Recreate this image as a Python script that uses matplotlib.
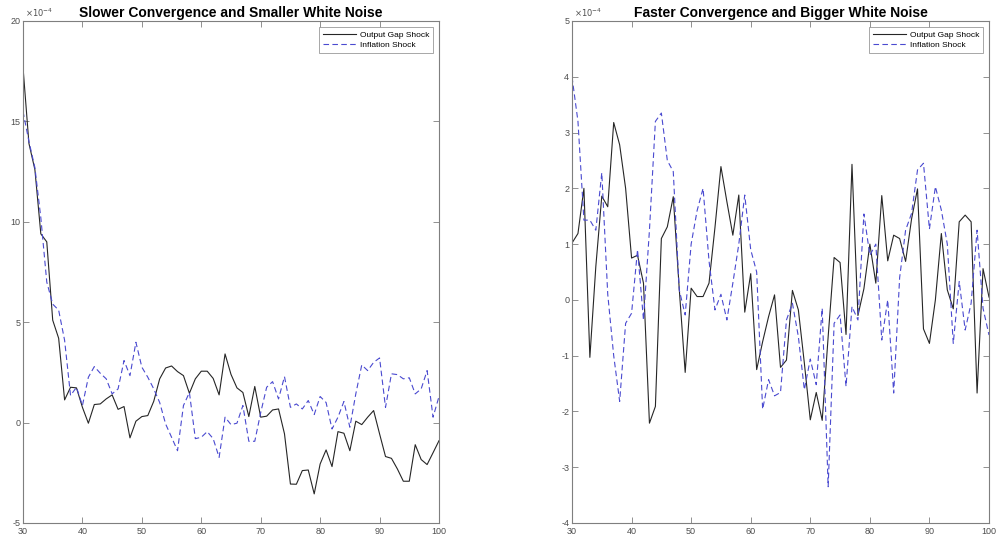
import numpy as np
import matplotlib
matplotlib.use("Agg")
import matplotlib.pyplot as plt
from matplotlib.ticker import FuncFormatter, MultipleLocator

plt.rcParams['font.family'] = ['Liberation Sans', 'DejaVu Sans']
plt.rcParams['axes.unicode_minus'] = False

periods = list(range(30, 101))

titles = ["Slower Convergence and Smaller White Noise",
          "Faster Convergence and Bigger White Noise"]
series_names = ["Output Gap Shock", "Inflation Shock"]
exponent_label = r'$\times10^{-4}$'
scale = 1e-4

# values in units of 1e-4
left_output_gap = [17.7, 13.9, 12.6, 9.4, 9.0, 5.1, 4.2, 1.13, 1.76, 1.73,
                   0.76, -0.03, 0.9, 0.93, 1.18, 1.38, 0.66, 0.8, -0.76, 0.07,
                   0.3, 0.35, 1.06, 2.18, 2.72, 2.82, 2.54, 2.34, 1.46, 2.18,
                   2.56, 2.56, 2.2, 1.38, 3.42, 2.4, 1.73, 1.5, 0.3, 1.8,
                   0.27, 0.32, 0.63, 0.68, -0.56, -3.06, -3.07, -2.39, -2.36, -3.55,
                   -2.06, -1.36, -2.19, -0.45, -0.53, -1.4, 0.07, -0.1, 0.27, 0.6,
                   -0.56, -1.69, -1.78, -2.31, -2.92, -2.92, -1.1, -1.84, -2.09, -1.5,
                   -0.9]
left_inflation = [15.5, 14.0, 12.7, 10.2, 7.0, 5.9, 5.6, 4.1, 1.35, 1.76,
                  0.85, 2.26, 2.79, 2.46, 2.18, 1.43, 1.68, 3.09, 2.34, 4.0,
                  2.76, 2.26, 1.68, 1.0, -0.07, -0.73, -1.4, 0.85, 1.5, -0.8,
                  -0.73, -0.45, -0.8, -1.73, 0.27, -0.1, -0.03, 0.85, -0.93, -0.93,
                  0.5, 1.76, 2.04, 1.18, 2.29, 0.76, 0.93, 0.68, 1.1, 0.4,
                  1.3, 1.0, -0.32, 0.27, 1.05, -0.23, 1.43, 2.87, 2.59, 3.0,
                  3.22, 0.76, 2.43, 2.39, 2.18, 2.23, 1.43, 1.68, 2.59, 0.27,
                  1.3]
right_output_gap = [1.02, 1.19, 2.0, -1.03, 0.6, 1.86, 1.67, 3.18, 2.78, 2.0,
                    0.75, 0.8, 0.3, -2.21, -1.91, 1.1, 1.31, 1.85, 0.2, -1.3,
                    0.21, 0.06, 0.06, 0.3, 1.3, 2.39, 1.76, 1.16, 1.88, -0.22,
                    0.47, -1.25, -0.75, -0.3, 0.09, -1.21, -1.08, 0.17, -0.18, -1.13,
                    -2.15, -1.66, -2.16, -0.66, 0.76, 0.67, -0.62, 2.43, -0.28, 0.2,
                    1.0, 0.3, 1.87, 0.7, 1.16, 1.1, 0.69, 1.45, 1.99, -0.52,
                    -0.78, 0.0, 1.19, 0.18, -0.16, 1.4, 1.52, 1.4, -1.67, 0.56,
                    0.05]
right_inflation = [4.0, 3.2, 1.43, 1.43, 1.25, 2.28, 0.1, -1.0, -1.82, -0.42,
                   -0.24, 0.9, -0.36, 1.25, 3.2, 3.35, 2.5, 2.3, 0.18, -0.27,
                   1.0, 1.6, 2.0, 0.7, -0.18, 0.1, -0.36, 0.3, 1.0, 1.88,
                   0.9, 0.5, -1.96, -1.43, -1.72, -1.66, -0.36, -0.06, -0.66, -1.61,
                   -1.06, -1.52, -0.15, -3.35, -0.42, -0.27, -1.55, -0.12, -0.36, 1.54,
                   0.8, 1.0, -0.72, 0.0, -1.67, 0.4, 1.25, 1.55, 2.33, 2.45,
                   1.27, 2.03, 1.61, 1.0, -0.78, 0.33, -0.54, -0.06, 1.25, -0.15,
                   -0.63]

panels = [
    (left_output_gap, left_inflation, (-5, 20), 5),
    (right_output_gap, right_inflation, (-4, 5), 1),
]

fig = plt.figure(figsize=(9.96, 5.44), dpi=100)
positions = [[23/996, 21/544, 416/996, 502/544],
             [572/996, 21/544, 417/996, 502/544]]

axis_gray = '#7f7f7f'
label_gray = '#4d4d4d'

for (og, inf, ylim, ystep), pos, title in zip(panels, positions, titles):
    ax = fig.add_axes(pos)
    ax.plot(periods, np.array(og) * scale, color='#262626', lw=0.8,
            label=series_names[0])
    ax.plot(periods, np.array(inf) * scale, color='#4a4ad0', lw=0.8,
            ls=(0, (5, 3)), label=series_names[1])
    ax.set_xlim(30, 100)
    ax.set_ylim(ylim[0] * scale, ylim[1] * scale)
    ax.xaxis.set_major_locator(MultipleLocator(10))
    ax.yaxis.set_major_locator(MultipleLocator(ystep * scale))
    ax.yaxis.set_major_formatter(FuncFormatter(lambda v, p: f"{round(v / scale):d}"))
    ax.text(0.005, 1.004, exponent_label, transform=ax.transAxes, fontsize=6,
            color=label_gray, ha='left', va='bottom')
    ax.tick_params(direction='in', top=True, right=True, length=4, width=0.6,
                   colors=axis_gray, labelcolor=label_gray, labelsize=6.5)
    ax.tick_params(axis='x', pad=3)
    ax.tick_params(axis='y', pad=2)
    for sp in ax.spines.values():
        sp.set_color(axis_gray)
        sp.set_linewidth(0.8)
    ax.set_title(title, fontsize=10, fontweight='bold', pad=3)
    leg = ax.legend(loc='upper right', fontsize=6, frameon=True, fancybox=False,
                    edgecolor=axis_gray, handlelength=4, borderpad=0.5,
                    labelspacing=0.25, borderaxespad=0.7, handletextpad=0.4)
    leg.get_frame().set_linewidth(0.6)

fig.savefig('out.png', dpi=100)
